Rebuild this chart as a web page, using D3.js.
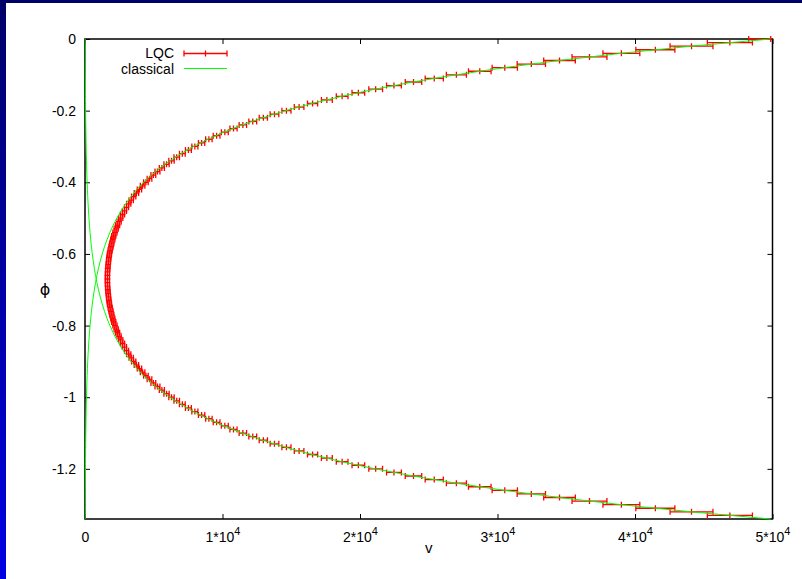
<!DOCTYPE html>
<html>
<head>
<meta charset="utf-8">
<script src="https://cdn.jsdelivr.net/npm/d3@7"></script>
<style>
  html, body { margin: 0; padding: 0; background: #fff; }
  svg { display: block; font-family: "Liberation Sans", Arial, Helvetica, sans-serif; }
</style>
</head>
<body>
<div id="chart"></div>
<script>
// LQC data: phi, volume v and its spread (half width of the x error bar)
const lqcPhi = [
  0, -0.01, -0.02, -0.03, -0.04, -0.05, -0.06, -0.07, -0.08, -0.09,
  -0.1, -0.11, -0.12, -0.13, -0.14, -0.15, -0.16, -0.17, -0.18, -0.19,
  -0.2, -0.21, -0.22, -0.23, -0.24, -0.25, -0.26, -0.27, -0.28, -0.29,
  -0.3, -0.31, -0.32, -0.33, -0.34, -0.35, -0.36, -0.37, -0.38, -0.39,
  -0.4, -0.41, -0.42, -0.43, -0.44, -0.45, -0.46, -0.47, -0.48, -0.49,
  -0.5, -0.51, -0.52, -0.53, -0.54, -0.55, -0.56, -0.57, -0.58, -0.59,
  -0.6, -0.61, -0.62, -0.63, -0.64, -0.65, -0.66, -0.67, -0.68, -0.69,
  -0.7, -0.71, -0.72, -0.73, -0.74, -0.75, -0.76, -0.77, -0.78, -0.79,
  -0.8, -0.81, -0.82, -0.83, -0.84, -0.85, -0.86, -0.87, -0.88, -0.89,
  -0.9, -0.91, -0.92, -0.93, -0.94, -0.95, -0.96, -0.97, -0.98, -0.99,
  -1, -1.01, -1.02, -1.03, -1.04, -1.05, -1.06, -1.07, -1.08, -1.09,
  -1.1, -1.11, -1.12, -1.13, -1.14, -1.15, -1.16, -1.17, -1.18, -1.19,
  -1.2, -1.21, -1.22, -1.23, -1.24, -1.25, -1.26, -1.27, -1.28, -1.29,
  -1.3, -1.31, -1.32, -1.33
];
const lqcV = [
  49870, 46900, 44110, 41480, 39010, 36690, 34510, 32460, 30530, 28710,
  27010, 25400, 23890, 22470, 21140, 19880, 18700, 17590, 16550, 15570,
  14650, 13780, 12970, 12200, 11480, 10800, 10170, 9570, 9010, 8480,
  7990, 7520, 7080, 6670, 6290, 5930, 5590, 5270, 4970, 4690,
  4430, 4190, 3960, 3740, 3540, 3360, 3180, 3020, 2870, 2730,
  2600, 2480, 2370, 2270, 2180, 2090, 2020, 1950, 1890, 1830,
  1780, 1740, 1710, 1680, 1660, 1640, 1630, 1630, 1630, 1640,
  1660, 1680, 1710, 1740, 1780, 1830, 1890, 1950, 2020, 2090,
  2180, 2270, 2370, 2480, 2600, 2730, 2870, 3020, 3180, 3360,
  3540, 3740, 3960, 4190, 4430, 4690, 4970, 5270, 5590, 5930,
  6290, 6670, 7080, 7520, 7990, 8480, 9010, 9570, 10170, 10800,
  11480, 12200, 12970, 13780, 14650, 15570, 16550, 17590, 18700, 19880,
  21140, 22470, 23890, 25400, 27010, 28710, 30530, 32460, 34510, 36690,
  39010, 41480, 44110, 46900
];
const lqcDv = [
  1600, 1640, 1560, 1420, 1340, 1270, 1150, 1030, 920, 820,
  730, 660, 600, 540, 500, 460, 425, 395, 370, 350,
  330, 315, 300, 285, 270, 260, 250, 245, 235, 230,
  220, 215, 210, 200, 195, 190, 185, 180, 175, 170,
  165, 165, 160, 160, 155, 155, 155, 150, 150, 150,
  150, 150, 150, 150, 150, 150, 150, 150, 150, 150,
  150, 150, 150, 150, 150, 150, 150, 150, 150, 150,
  150, 150, 150, 150, 150, 150, 150, 150, 150, 150,
  150, 150, 150, 150, 150, 150, 150, 150, 155, 155,
  155, 160, 160, 165, 165, 170, 175, 180, 185, 190,
  195, 200, 210, 215, 220, 230, 235, 245, 250, 260,
  270, 285, 300, 315, 330, 350, 370, 395, 425, 460,
  500, 540, 600, 660, 730, 820, 920, 1030, 1150, 1270,
  1340, 1420, 1560, 1640
];

// classical trajectories (expanding and contracting branch)
const classicalPhi = [
  0, -0.02, -0.04, -0.06, -0.08, -0.1, -0.12, -0.14, -0.16, -0.18,
  -0.2, -0.22, -0.24, -0.26, -0.28, -0.3, -0.32, -0.34, -0.36, -0.38,
  -0.4, -0.42, -0.44, -0.46, -0.48, -0.5, -0.52, -0.54, -0.56, -0.58,
  -0.6, -0.62, -0.64, -0.66, -0.68, -0.7, -0.72, -0.74, -0.76, -0.78,
  -0.8, -0.82, -0.84, -0.86, -0.88, -0.9, -0.92, -0.94, -0.96, -0.98,
  -1, -1.02, -1.04, -1.06, -1.08, -1.1, -1.12, -1.14, -1.16, -1.18,
  -1.2, -1.22, -1.24, -1.26, -1.28, -1.3, -1.32, -1.34
];
const classicalUpper = [
  49853, 44092, 38997, 34491, 30505, 26980, 23862, 21105, 18666, 16509,
  14601, 12914, 11422, 10102, 8935, 7902, 6989, 6181, 5467, 4835,
  4277, 3782, 3345, 2959, 2617, 2315, 2047, 1811, 1601, 1416,
  1253, 1108, 980, 867, 766, 678, 600, 530, 469, 415,
  367, 324, 287, 254, 224, 199, 176, 155, 137, 121,
  107, 95, 84, 74, 66, 58, 51, 45, 40, 36,
  31, 28, 25, 22, 19, 17, 15, 13
];
const classicalLower = [
  13, 15, 17, 19, 22, 25, 28, 31, 36, 40,
  45, 51, 58, 66, 74, 84, 95, 107, 121, 137,
  155, 176, 199, 224, 254, 287, 324, 367, 415, 469,
  530, 600, 678, 766, 867, 980, 1108, 1253, 1416, 1601,
  1811, 2047, 2315, 2617, 2959, 3345, 3782, 4277, 4835, 5467,
  6181, 6989, 7902, 8935, 10102, 11422, 12914, 14601, 16509, 18666,
  21105, 23862, 26980, 30505, 34491, 38997, 44092, 49853
];

const xTicks = [0, 10000, 20000, 30000, 40000, 50000];
const xTickLabels = ["0", "1*10^4", "2*10^4", "3*10^4", "4*10^4", "5*10^4"];
const yTicks = [0, -0.2, -0.4, -0.6, -0.8, -1, -1.2];
const yTickLabels = ["0", "-0.2", "-0.4", "-0.6", "-0.8", "-1", "-1.2"];

const W = 802, H = 579;
const plotL = 85, plotR = 772.5, plotT = 39, plotB = 519;

const svg = d3.select("#chart").append("svg")
  .attr("width", W)
  .attr("height", H);

// blue frame behind the white page
const defs = svg.append("defs");
const grad = defs.append("linearGradient")
  .attr("id", "frame")
  .attr("x1", 0).attr("y1", 0).attr("x2", 0).attr("y2", 1);
grad.append("stop").attr("offset", "0%").attr("stop-color", "#000068");
grad.append("stop").attr("offset", "100%").attr("stop-color", "#0000e4");
svg.append("rect").attr("width", W).attr("height", H).attr("fill", "url(#frame)");
svg.append("rect").attr("x", 6).attr("y", 3).attr("width", W - 6).attr("height", H - 3).attr("fill", "#fff");

defs.append("clipPath").attr("id", "plotclip")
  .append("rect").attr("x", plotL).attr("y", plotT - 8).attr("width", plotR - plotL).attr("height", plotB - plotT + 16);

const x = d3.scaleLinear().domain([0, 50000]).range([plotL, plotR]);
const y = d3.scaleLinear().domain([-1.34, 0]).range([plotB, plotT]);

// axes, ticks pointing inwards, mirrored on top and right
const styleAxis = g => {
  g.select(".domain").remove();
  g.selectAll(".tick line").attr("stroke", "#000");
  g.attr("font-size", 14).attr("font-family", "'Liberation Sans', Arial, Helvetica, sans-serif");
  g.selectAll("text").attr("fill", "#000");
};

svg.append("g")
  .attr("transform", `translate(0,${plotB})`)
  .call(d3.axisBottom(x).tickValues(xTicks).tickSizeInner(-5).tickSizeOuter(0).tickPadding(13).tickFormat(() => ""))
  .call(styleAxis)
  .selectAll(".tick text")
  .each(function(d, i) {
    const parts = xTickLabels[i].split("^");
    const t = d3.select(this);
    t.append("tspan").text(parts[0]);
    if (parts[1]) t.append("tspan").attr("dy", -7).attr("font-size", 11).text(parts[1]);
  });

svg.append("g")
  .attr("transform", `translate(0,${plotT})`)
  .call(d3.axisTop(x).tickValues(xTicks).tickSizeInner(-5).tickSizeOuter(0).tickFormat(() => ""))
  .call(styleAxis);

svg.append("g")
  .attr("transform", `translate(${plotL},0)`)
  .call(d3.axisLeft(y).tickValues(yTicks).tickSizeInner(-5).tickSizeOuter(0).tickPadding(9)
    .tickFormat((d, i) => yTickLabels[i]))
  .call(styleAxis);

svg.append("g")
  .attr("transform", `translate(${plotR},0)`)
  .call(d3.axisRight(y).tickValues(yTicks).tickSizeInner(-5).tickSizeOuter(0).tickFormat(() => ""))
  .call(styleAxis);

svg.append("rect")
  .attr("x", plotL).attr("y", plotT)
  .attr("width", plotR - plotL).attr("height", plotB - plotT)
  .attr("fill", "none").attr("stroke", "#000").attr("stroke-width", 1.5);

// axis titles
svg.append("text").attr("x", (plotL + plotR) / 2).attr("y", 553)
  .attr("text-anchor", "middle").attr("font-size", 15).text("v");
svg.append("text").attr("x", 45).attr("y", 295)
  .attr("text-anchor", "middle").attr("font-size", 16)
  .attr("font-family", "'DejaVu Sans', sans-serif").text("ϕ");

const plot = svg.append("g").attr("clip-path", "url(#plotclip)");

// error bar shape: horizontal bar with end caps and a plus at the point
const cap = 3;
const barPath = (xc, xl, xr, yc) =>
  `M${xl},${yc}H${xr}M${xl},${yc - cap}V${yc + cap}M${xr},${yc - cap}V${yc + cap}` +
  `M${xc},${yc - cap}V${yc + cap}M${xc - cap},${yc}H${xc + cap}`;

const lqc = lqcPhi.map((p, i) => ({ phi: p, v: lqcV[i], dv: lqcDv[i] }));

plot.append("g")
  .selectAll("path")
  .data(lqc)
  .join("path")
  .attr("d", d => barPath(x(d.v), x(d.v - d.dv), x(d.v + d.dv), y(d.phi)))
  .attr("fill", "none")
  .attr("stroke", "#ff0000")
  .attr("stroke-width", 1.3);

const line = d3.line().x(d => x(d.v)).y(d => y(d.phi));
[classicalUpper, classicalLower].forEach(vals => {
  plot.append("path")
    .datum(classicalPhi.map((p, i) => ({ phi: p, v: vals[i] })))
    .attr("d", line)
    .attr("fill", "none")
    .attr("stroke", "#00ff00")
    .attr("stroke-width", 1);
});

// legend
const legend = svg.append("g").attr("font-size", 14);
legend.append("text").attr("x", 174).attr("y", 58).attr("text-anchor", "end").text("LQC");
legend.append("path")
  .attr("d", barPath(205.5, 184, 227, 53.5))
  .attr("fill", "none").attr("stroke", "#ff0000").attr("stroke-width", 1.3);
legend.append("text").attr("x", 174).attr("y", 74).attr("text-anchor", "end").text("classical");
legend.append("line")
  .attr("x1", 184).attr("x2", 227).attr("y1", 68.5).attr("y2", 68.5)
  .attr("stroke", "#00ff00");
</script>
</body>
</html>
